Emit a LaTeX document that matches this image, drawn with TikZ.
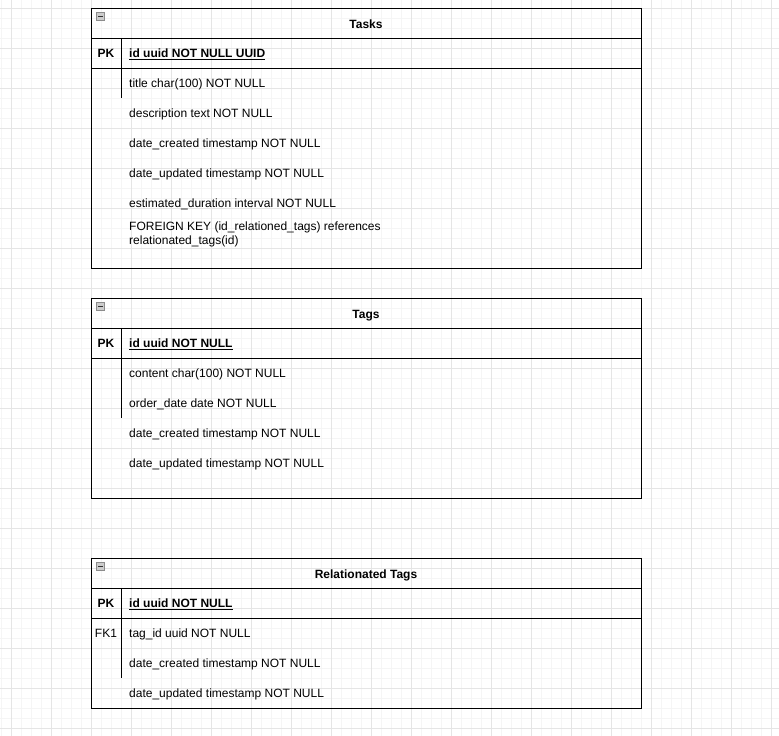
\documentclass[tikz,border=0pt]{standalone}
\usepackage{fontspec}
\setmainfont{Liberation Sans}
\usetikzlibrary{positioning}
\begin{document}
\begin{tikzpicture}[
	x=1pt, y=-1pt,
	tbl/.style    = {draw, rectangle, line width=1pt, inner sep=0pt, outer sep=0pt, anchor=north west, minimum width=550pt},
	title/.style  = {tbl, minimum height=30pt, text height=11.4pt, text depth=0pt, font=\bfseries\fontsize{12}{14}\selectfont},
	keyrow/.style = {tbl, minimum height=30pt},
	field/.style  = {anchor=base west, yshift=-4.4pt, inner sep=0pt, align=left, font=\fontsize{12}{14}\selectfont},
	keytag/.style = {anchor=base, yshift=-4.4pt, inner sep=0pt, font=\fontsize{12}{14}\selectfont},
	toggle/.style = {draw=black!45, fill=black!20, line width=0.8pt, minimum size=8pt, inner sep=0pt},
	sep/.style    = {line width=1pt},
	minor/.style  = {draw=black!4, line width=0.8pt},
	major/.style  = {draw=black!10, line width=0.8pt}]
	
	% page and background grid
	\useasboundingbox (0,0) rectangle (779,736);
	\fill[white] (0,0) rectangle (779,736);
	\begin{scope}
		\clip (0,0) rectangle (779,736);
		\foreach \x in {1,11,...,781}
		\draw[minor] (\x,0) -- (\x,736);
		\foreach \y in {-2,8,...,738}
		\draw[minor] (0,\y) -- (779,\y);
		\foreach \x in {11,51,...,771}
		\draw[major] (\x,0) -- (\x,736);
		\foreach \y in {8,48,...,728}
		\draw[major] (0,\y) -- (779,\y);
	\end{scope}
	
	% table Tasks
	\node[title] (tasksT) at (91,8) {Tasks};
	\node[keyrow, below=0pt of tasksT] (tasksK) {};
	\node[tbl, minimum height=200pt, below=0pt of tasksK] (tasksB) {};
	\node[keytag, font=\bfseries\fontsize{12}{14}\selectfont] (tasksPK) at (106,53) {PK};
	\node[field, font=\bfseries\fontsize{12}{14}\selectfont] (tasksId) at (129,53) {\underline{id uuid NOT NULL UUID}};
	% (a text of two lines sits on the baseline of its last line)
	\foreach \y/\txt [count=\i] in {83/{title char(100) NOT NULL},
		113/{description text NOT NULL},
		143/{date\_created timestamp NOT NULL},
		173/{date\_updated timestamp NOT NULL},
		203/{estimated\_duration interval NOT NULL},
		240/{FOREIGN KEY (id\_relationed\_tags) references\\relationated\_tags(id)}}
	\node[field] (tasks\i) at (129,\y) {\txt};
	\draw[sep] ([xshift=30pt]tasksK.north west) -- ([xshift=30pt, yshift=-30pt]tasksK.south west);
	
	% table Tags
	\node[title] (tagsT) at (91,298) {Tags};
	\node[keyrow, below=0pt of tagsT] (tagsK) {};
	\node[tbl, minimum height=140pt, below=0pt of tagsK] (tagsB) {};
	\node[keytag, font=\bfseries\fontsize{12}{14}\selectfont] (tagsPK) at (106,343) {PK};
	\node[field, font=\bfseries\fontsize{12}{14}\selectfont] (tagsId) at (129,343) {\underline{id uuid NOT NULL}};
	\foreach \y/\txt [count=\i] in {373/{content char(100) NOT NULL},
		403/{order\_date date NOT NULL},
		433/{date\_created timestamp NOT NULL},
		463/{date\_updated timestamp NOT NULL}}
	\node[field] (tags\i) at (129,\y) {\txt};
	\draw[sep] ([xshift=30pt]tagsK.north west) -- ([xshift=30pt, yshift=-60pt]tagsK.south west);
	
	% table Relationated Tags
	\node[title] (relT) at (91,558) {Relationated Tags};
	\node[keyrow, below=0pt of relT] (relK) {};
	\node[tbl, minimum height=90pt, below=0pt of relK] (relB) {};
	\node[keytag, font=\bfseries\fontsize{12}{14}\selectfont] (relPK) at (106,603) {PK};
	\node[field, font=\bfseries\fontsize{12}{14}\selectfont] (relId) at (129,603) {\underline{id uuid NOT NULL}};
	\node[keytag] (relFK) at (106,633) {FK1};
	\foreach \y/\txt [count=\i] in {633/{tag\_id uuid NOT NULL},
		663/{date\_created timestamp NOT NULL},
		693/{date\_updated timestamp NOT NULL}}
	\node[field] (rel\i) at (129,\y) {\txt};
	\draw[sep] ([xshift=30pt]relK.north west) -- ([xshift=30pt, yshift=-60pt]relK.south west);
	
	% collapse toggles in the title bars
	\foreach \t in {tasksT, tagsT, relT} {
		\node[toggle] (\t Box) at ([xshift=9.5pt, yshift=-8.8pt]\t.north west) {};
		\draw[line width=1.3pt, black!80] ([xshift=-2.5pt]\t Box.center) -- ([xshift=2.5pt]\t Box.center);
	}
\end{tikzpicture}
\end{document}
